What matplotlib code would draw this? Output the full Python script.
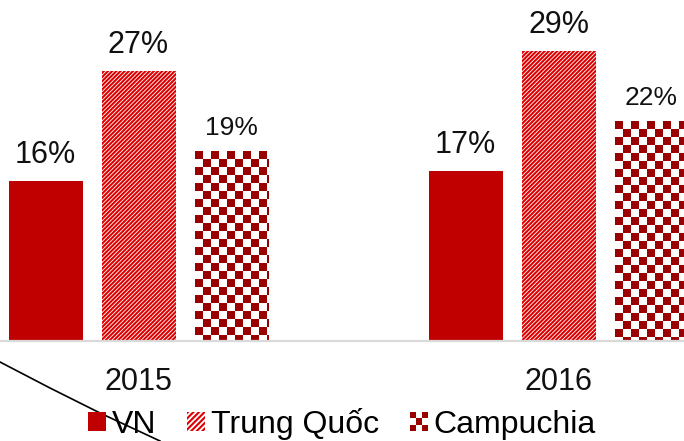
import numpy as np
import matplotlib
matplotlib.use("Agg")
import matplotlib.pyplot as plt
from matplotlib.colors import ListedColormap
from matplotlib.patches import Rectangle
from matplotlib.legend_handler import HandlerBase
from matplotlib.lines import Line2D

plt.rcParams['font.family'] = ['Liberation Sans', 'DejaVu Sans']
plt.rcParams['hatch.linewidth'] = 1.5

# data
years = ['2015', '2016']
series = ['VN', 'Trung Quốc', 'Campuchia']
vn = [16, 17]
trung_quoc = [27, 29]
campuchia = [19, 22]

red = '#C00000'
stripe_red = '#DD0000'
dark_red = '#990000'

W, H = 684, 441
fig = plt.figure(figsize=(W / 100, H / 100), dpi=100)
# axes is wider than the picture: the reference is cropped on both sides
ax = fig.add_axes([0, 100 / H, 1, 341 / H])
px = 420.0          # pixels per category step

x = np.arange(len(years))
step = 93 / px
width = 74 / px

b_vn = ax.bar(x - step, vn, width, color=red, zorder=2)
b_tq = ax.bar(x, trung_quoc, width, facecolor='white', edgecolor=stripe_red,
              linewidth=0, hatch='////////', zorder=2)
b_cp = ax.bar(x + step, campuchia, width, facecolor='none', linewidth=0, zorder=2)

# checker fill for Campuchia, 8 px squares clipped to each bar
cmap = ListedColormap(['white', dark_red])
sq_x = 8 / px
sq_y = 0.8
for rect in b_cp:
    x0 = rect.get_x()
    top = rect.get_height()
    nc = int(np.ceil(rect.get_width() / sq_x)) + 1
    nr = int(np.ceil(top / sq_y)) + 1
    board = (np.add.outer(np.arange(nr), np.arange(nc)) + 1) % 2
    board = np.kron(board, np.ones((8, 8)))
    im = ax.imshow(board, extent=(x0, x0 + nc * sq_x, top - nr * sq_y, top),
                   cmap=cmap, interpolation='nearest', aspect='auto', zorder=2)
    im.set_clip_path(rect)
ax.set_xlim(-138.5 / px, (W - 138.5) / px)
ax.set_ylim(0, 34.1)

# value labels
for bars, vals, fs in [(b_vn, vn, 22), (b_tq, trung_quoc, 22), (b_cp, campuchia, 19)]:
    for r, v in zip(bars, vals):
        ax.annotate(f'{v}%', (r.get_x() + r.get_width() / 2, v),
                    xytext=(0, 8), textcoords='offset points',
                    ha='center', va='bottom', fontsize=fs, color='#111111')

for s in ['top', 'right', 'left']:
    ax.spines[s].set_visible(False)
ax.spines['bottom'].set_color('#D9D9D9')
ax.spines['bottom'].set_linewidth(1.6)
ax.set_yticks([])
ax.set_xticks(x)
ax.set_xticklabels(years, fontsize=22, color='#111111')
ax.tick_params(axis='x', length=0, pad=19)


class CheckerHandler(HandlerBase):
    def create_artists(self, legend, orig_handle, xdescent, ydescent,
                       width, height, fontsize, trans):
        arts = []
        n = 3
        cw, ch = width / n, height / n
        for i in range(n):
            for j in range(n):
                c = dark_red if (i + j) % 2 == 0 else 'white'
                arts.append(Rectangle((-xdescent + j * cw, -ydescent + (n - 1 - i) * ch),
                                      cw, ch, facecolor=c, linewidth=0,
                                      transform=trans))
        return arts


h_vn = Rectangle((0, 0), 1, 1, facecolor=red, linewidth=0)
h_tq = Rectangle((0, 0), 1, 1, facecolor='white', edgecolor=stripe_red,
                 linewidth=0, hatch='//////')
h_cp = Rectangle((0, 0), 1, 1)
fig.legend([h_vn, h_tq, h_cp], series, loc='center', ncol=3,
           bbox_to_anchor=(0.5, 1 - 424 / H), frameon=False, fontsize=23,
           handlelength=0.55, handleheight=0.55, handletextpad=0.18,
           columnspacing=0.98, borderpad=0, borderaxespad=0,
           handler_map={h_cp: CheckerHandler()})

# thin black stroke crossing the lower-left corner
fig.add_artist(Line2D(np.array([0, 50, 100, 160]) / W,
                      1 - np.array([362, 388, 413, 441]) / H,
                      transform=fig.transFigure, color='black', linewidth=1.2))

fig.savefig('out.png', dpi=100)
